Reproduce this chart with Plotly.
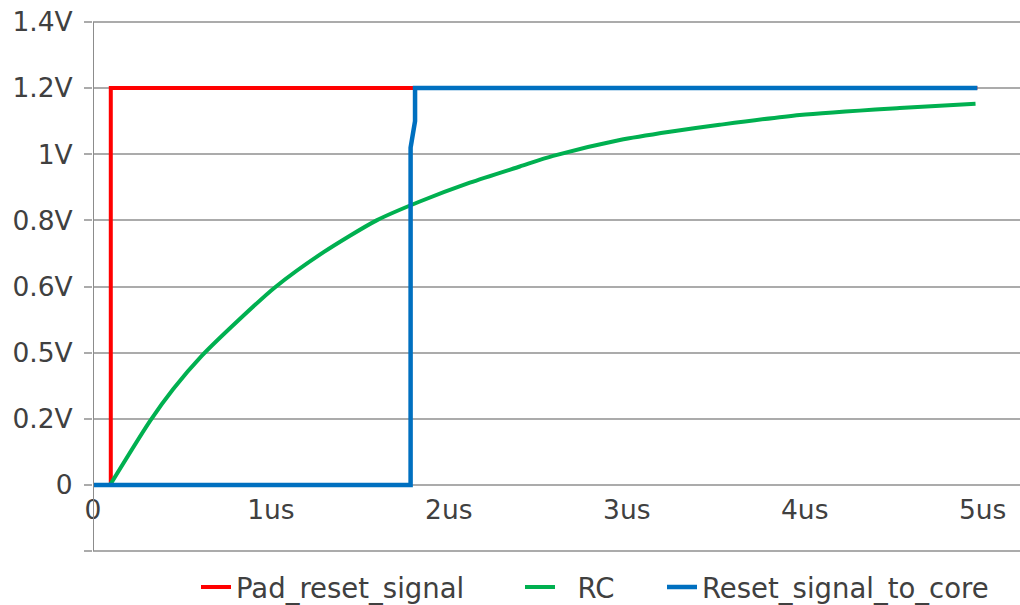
import plotly.graph_objects as go

# ---- data (time in us, voltage in V) ----
pad_t = [0, 0.1, 0.1, 4.97]
pad_v = [0, 0, 1.2, 1.2]

rc_t = [0.096, 0.32, 0.451, 0.611, 0.816, 1.022, 1.294, 1.594, 1.837, 2.118, 2.399,
        2.586, 2.961, 3.242, 3.522, 3.972, 4.534, 4.96]
rc_v = [0.0, 0.193, 0.29, 0.39, 0.497, 0.597, 0.703, 0.8, 0.857, 0.914, 0.963,
        0.995, 1.043, 1.068, 1.089, 1.119, 1.140, 1.153]

core_t = [0, 1.785, 1.785, 1.81, 1.81, 4.97]
core_v = [0, 0, 1.02, 1.1, 1.2, 1.2]

y_tickvals = [-0.2, 0, 0.2, 0.4, 0.6, 0.8, 1.0, 1.2, 1.4]
y_ticktext = ["", "0", "0.2V", "0.5V", "0.6V", "0.8V", "1V", "1.2V", "1.4V"]
x_tickvals = [0, 1, 2, 3, 4, 5]
x_ticktext = ["0", "1us", "2us", "3us", "4us", "5us"]

FONT = "DejaVu Sans"
TXT = "#404040"
GRID = "#ababab"

Y_MIN, Y_MAX = -0.206, 1.406

W, H = 1020, 605
L, R, T, B = 93, 0, 20, 52
PW, PH = W - L - R, H - T - B


def px_x(px):
    return (px - L) / PW


def px_y(py):
    return (H - B - py) / PH


fig = go.Figure()
fig.add_trace(go.Scatter(x=pad_t, y=pad_v, mode="lines", name="Pad_reset_signal",
                         line=dict(color="#FF0000", width=4), legend="legend"))
fig.add_trace(go.Scatter(x=rc_t, y=rc_v, mode="lines", name="\u00a0\u00a0RC",
                         line=dict(color="#00B050", width=4, shape="spline", smoothing=0.7),
                         legend="legend2"))
fig.add_trace(go.Scatter(x=core_t, y=core_v, mode="lines", name="Reset_signal_to_core",
                         line=dict(color="#0070C0", width=4.5), legend="legend3"))

leg_common = dict(orientation="h", xanchor="left", yanchor="middle",
                  font=dict(family=FONT, size=27.5, color=TXT), bgcolor="rgba(0,0,0,0)")

fig.update_layout(
    width=W, height=H,
    margin=dict(l=L, r=R, t=T, b=B, autoexpand=False),
    paper_bgcolor="white", plot_bgcolor="white",
    font=dict(family=FONT, color=TXT, size=26.5),
    showlegend=True,
    legend=dict(x=px_x(196), y=px_y(587), **leg_common),
    legend2=dict(x=px_x(520), y=px_y(587), **leg_common),
    legend3=dict(x=px_x(662), y=px_y(587), **leg_common),
    xaxis=dict(range=[0, 5.21], tickvals=x_tickvals, ticktext=x_ticktext,
               showgrid=False, zeroline=False, showline=False,
               anchor="free", position=(0 - Y_MIN) / (Y_MAX - Y_MIN), automargin=False,
               ticks="outside", ticklen=1, tickcolor="rgba(0,0,0,0)",
               tickfont=dict(family=FONT, size=26.5, color=TXT), fixedrange=True),
    yaxis=dict(range=[Y_MIN, Y_MAX], tickvals=y_tickvals, ticktext=y_ticktext,
               showgrid=True, gridcolor=GRID, gridwidth=2, zeroline=False,
               showline=False, automargin=False,
               ticks="outside", ticklen=8, tickcolor=GRID, tickwidth=2,
               ticklabelstandoff=6, ticklabeloverflow="allow",
               tickfont=dict(family=FONT, size=26.5, color=TXT), fixedrange=True),
    shapes=[dict(type="line", xref="x", yref="y", x0=0, x1=0, y0=-0.2, y1=1.4,
                 line=dict(color="#8c8c8c", width=2), layer="above")],
)

fig.write_html("out.html",
               config={"displayModeBar": False},
               post_script="document.body.style.margin='0';document.body.style.overflow='hidden';")
